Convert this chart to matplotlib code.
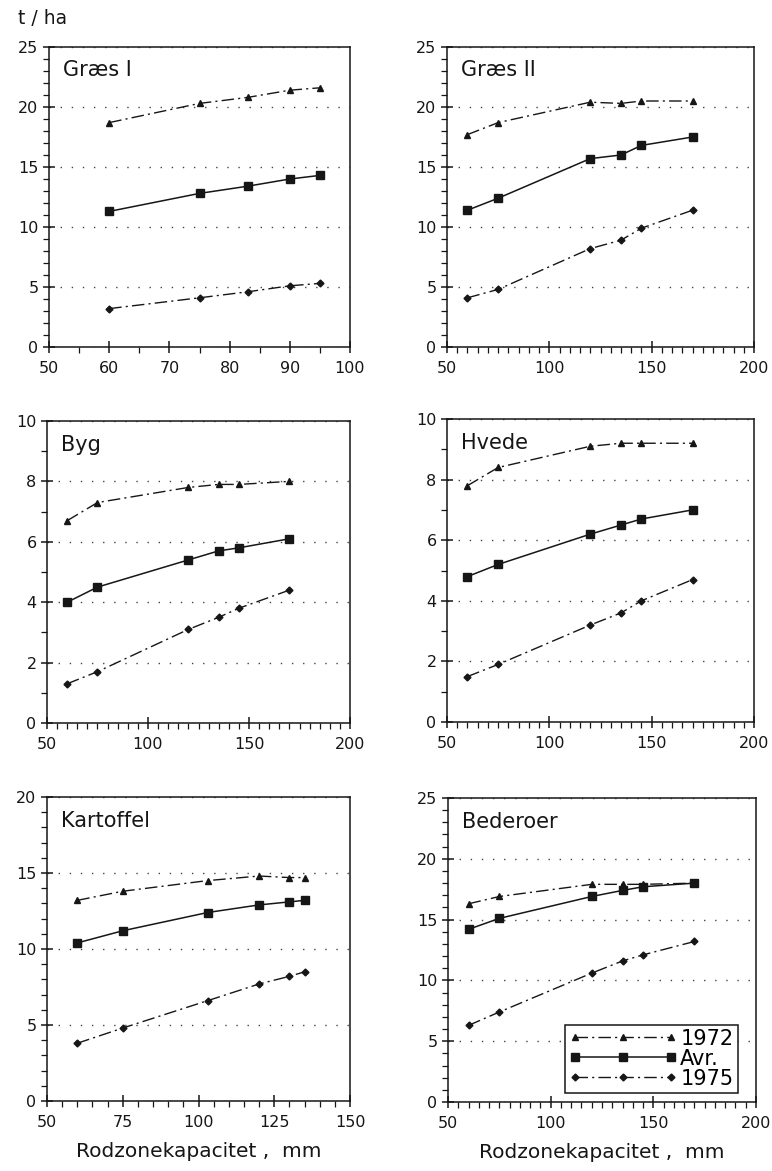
import numpy as np
import matplotlib
matplotlib.use("Agg")
import matplotlib.pyplot as plt
from matplotlib.ticker import MultipleLocator

plt.rcParams['font.family'] = ['DejaVu Sans']

# data (t/ha vs root zone capacity, mm)
graes1_x = [60, 75, 83, 90, 95]
graes1_72 = [18.7, 20.3, 20.8, 21.4, 21.6]
graes1_avr = [11.3, 12.8, 13.4, 14.0, 14.3]
graes1_75 = [3.2, 4.1, 4.6, 5.1, 5.3]

graes2_x = [60, 75, 120, 135, 145, 170]
graes2_72 = [17.7, 18.7, 20.4, 20.3, 20.5, 20.5]
graes2_avr = [11.4, 12.4, 15.7, 16.0, 16.8, 17.5]
graes2_75 = [4.1, 4.8, 8.2, 8.9, 9.9, 11.4]

byg_x = [60, 75, 120, 135, 145, 170]
byg_72 = [6.7, 7.3, 7.8, 7.9, 7.9, 8.0]
byg_avr = [4.0, 4.5, 5.4, 5.7, 5.8, 6.1]
byg_75 = [1.3, 1.7, 3.1, 3.5, 3.8, 4.4]

hvede_x = [60, 75, 120, 135, 145, 170]
hvede_72 = [7.8, 8.4, 9.1, 9.2, 9.2, 9.2]
hvede_avr = [4.8, 5.2, 6.2, 6.5, 6.7, 7.0]
hvede_75 = [1.5, 1.9, 3.2, 3.6, 4.0, 4.7]

kart_x = [60, 75, 103, 120, 130, 135]
kart_72 = [13.2, 13.8, 14.5, 14.8, 14.7, 14.7]
kart_avr = [10.4, 11.2, 12.4, 12.9, 13.1, 13.2]
kart_75 = [3.8, 4.8, 6.6, 7.7, 8.2, 8.5]

bede_x = [60, 75, 120, 135, 145, 170]
bede_72 = [16.3, 16.9, 17.9, 17.9, 17.9, 18.0]
bede_avr = [14.2, 15.1, 16.9, 17.4, 17.7, 18.0]
bede_75 = [6.3, 7.4, 10.6, 11.6, 12.1, 13.2]

panels = [
    ("Græs I", graes1_x, graes1_72, graes1_avr, graes1_75, (50, 100, 10, 5), (0, 25, 5, 1)),
    ("Græs II", graes2_x, graes2_72, graes2_avr, graes2_75, (50, 200, 50, 5), (0, 25, 5, 1)),
    ("Byg", byg_x, byg_72, byg_avr, byg_75, (50, 200, 50, 5), (0, 10, 2, 1)),
    ("Hvede", hvede_x, hvede_72, hvede_avr, hvede_75, (50, 200, 50, 5), (0, 10, 2, 1)),
    ("Kartoffel", kart_x, kart_72, kart_avr, kart_75, (50, 150, 25, 5), (0, 20, 5, 1)),
    ("Bederoer", bede_x, bede_72, bede_avr, bede_75, (50, 200, 50, 5), (0, 25, 5, 1)),
]

W, H = 772, 1171
fig = plt.figure(figsize=(W / 100, H / 100), dpi=100)

# axes boxes in pixels: left, right, top, bottom
boxes = [
    (49, 350, 47, 347), (447, 754, 47, 347),
    (47, 350, 421, 723), (447, 754, 419, 722),
    (47, 350, 797, 1101), (448, 756, 798, 1102),
]

ink = "#161616"
dashdot = (0, (9, 3, 1.5, 3))

for (title, x, y72, yavr, y75, xs, ys), (l, r, t, b) in zip(panels, boxes):
    ax = fig.add_axes([l / W, 1 - b / H, (r - l) / W, (b - t) / H])
    ax.plot(x, y72, linestyle=dashdot, color=ink, lw=1.0, marker="^", ms=4, label="1972")
    ax.plot(x, yavr, linestyle="-", color=ink, lw=1.1, marker="s", ms=5.5, label="Avr.")
    ax.plot(x, y75, linestyle=dashdot, color=ink, lw=1.0, marker="D", ms=3.5, label="1975")
    ax.set_xlim(xs[0], xs[1])
    ax.set_ylim(ys[0], ys[1])
    ax.xaxis.set_major_locator(MultipleLocator(xs[2]))
    ax.xaxis.set_minor_locator(MultipleLocator(xs[3]))
    ax.yaxis.set_major_locator(MultipleLocator(ys[2]))
    ax.yaxis.set_minor_locator(MultipleLocator(ys[3]))
    ax.tick_params(which="major", direction="inout", length=8, width=1.1, labelsize=11.5,
                   colors=ink)
    ax.tick_params(which="minor", direction="out", length=4, width=0.9, colors=ink)
    ax.tick_params(axis="x", pad=6)
    for s in ax.spines.values():
        s.set_linewidth(1.1)
        s.set_color(ink)
    ax.grid(axis="y", which="major", linestyle=(0, (1, 7)), color="#444444", lw=1.0)
    ax.text(0.045, 0.955, title, transform=ax.transAxes, fontsize=15, fontweight="medium",
            va="top", ha="left", color=ink)
    if title == "Bederoer":
        leg = ax.legend(loc="lower right", bbox_to_anchor=(0.94, 0.03), numpoints=3,
                        handlelength=5.2, fontsize=15, frameon=True, fancybox=False,
                        borderpad=0.2, labelspacing=0.0, handletextpad=0.15,
                        borderaxespad=0)
        leg.get_frame().set_edgecolor(ink)
        leg.get_frame().set_linewidth(1.1)
        leg.get_frame().set_alpha(1)
    if title in ("Kartoffel", "Bederoer"):
        ax.text(0.5, -0.165, "Rodzonekapacitet ,  mm", transform=ax.transAxes,
                fontsize=14.5, ha="center", va="center", color=ink)

fig.text(18 / W, 1 - 18 / H, "t / ha", fontsize=13.5, ha="left", va="center", color=ink)

fig.savefig("out.png", dpi=100, facecolor="white")
